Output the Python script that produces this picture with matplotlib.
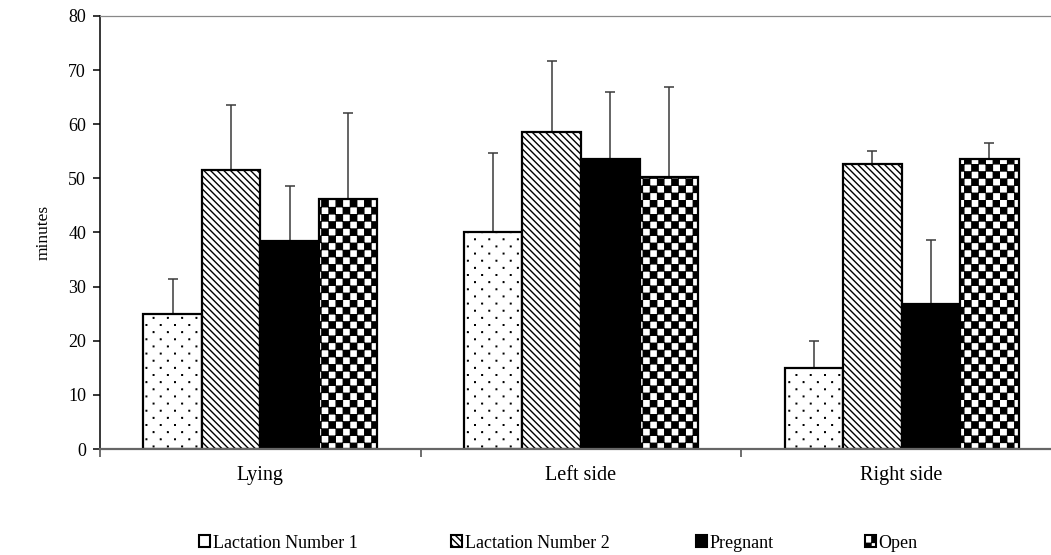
import numpy as np
import matplotlib
matplotlib.use("Agg")
import matplotlib.pyplot as plt
import matplotlib.hatch as mhatch
from matplotlib.path import Path
from matplotlib.patches import Patch

# ---------------- data ----------------
categories = ["Lying", "Left side", "Right side"]
series = ["Lactation Number 1", "Lactation Number 2", "Pregnant", "Open"]
lact1 = [25.0, 40.0, 15.0]
lact2 = [51.5, 58.6, 52.7]
pregnant = [38.4, 53.5, 26.8]
open_ = [46.2, 50.2, 53.6]
lact1_err = [6.4, 14.7, 5.0]
lact2_err = [12.1, 13.0, 2.4]
pregnant_err = [10.2, 12.4, 11.8]
open_err = [15.9, 16.6, 3.0]
yticks = [0, 10, 20, 30, 40, 50, 60, 70, 80]

values = [lact1, lact2, pregnant, open_]
errors = [lact1_err, lact2_err, pregnant_err, open_err]


def _square(vertices, codes, k, x0, y0, x1, y1):
    vertices[k:k + 5] = [(x0, y0), (x1, y0), (x1, y1), (x0, y1), (x0, y0)]
    codes[k:k + 5] = [Path.MOVETO, Path.LINETO, Path.LINETO,
                      Path.LINETO, Path.CLOSEPOLY]


# ------------- custom checkerboard hatch (uses the 'O' character) -------------
class Checker(mhatch.HatchPatternBase):
    filled = True

    def __init__(self, hatch, density):
        self.n = hatch.count('O') * 14
        self.cells = [(i, j) for i in range(self.n) for j in range(self.n)
                      if (i + j) % 2 == 0] if self.n else []
        self.num_vertices = len(self.cells) * 5

    def set_vertices_and_codes(self, vertices, codes):
        s = 1.0 / self.n
        ins = s * 0.06
        for m, (i, j) in enumerate(self.cells):
            _square(vertices, codes, 5 * m, i * s + ins, j * s + ins,
                    (i + 1) * s - ins, (j + 1) * s - ins)


# ------------- custom sparse tiny dots (uses the '.' character) -------------
class TinyDots(mhatch.HatchPatternBase):
    filled = True

    def __init__(self, hatch, density):
        c = hatch.count('.')
        self.cols = 7 * c
        self.rows = 14 * c
        self.pts = []
        if c:
            for r in range(self.rows):
                off = 0.5 if r % 2 else 0.0
                for q in range(self.cols):
                    self.pts.append(((q + off + 0.25) / self.cols, (r + 0.5) / self.rows))
        self.num_vertices = len(self.pts) * 5

    def set_vertices_and_codes(self, vertices, codes):
        d = 0.003
        for m, (px, py) in enumerate(self.pts):
            _square(vertices, codes, 5 * m, px - d, py - d, px + d, py + d)


mhatch._hatch_types = [t for t in mhatch._hatch_types
                       if t not in (mhatch.LargeCircles, mhatch.SmallFilledCircles)] + [Checker, TinyDots]

plt.rcParams['font.family'] = ['Liberation Serif', 'DejaVu Serif']
plt.rcParams['hatch.linewidth'] = 1.0

W, H = 1051, 555
fig = plt.figure(figsize=(W / 100, H / 100), dpi=100)
left, right, top, bottom = 100, 1062, 16, 449
ax = fig.add_axes([left / W, 1 - bottom / H, (right - left) / W, (bottom - top) / H])

styles = [
    dict(facecolor='white', hatch='.'),
    dict(facecolor='white', hatch='\\\\\\\\\\'),
    dict(facecolor='black', hatch=None),
    dict(facecolor='white', hatch='O'),
]

bw = 0.1825
x = np.arange(len(categories))
for k, (vals, errs, st) in enumerate(zip(values, errors, styles)):
    pos = x + (k - 1.5) * bw
    ax.errorbar(pos, vals, yerr=[np.zeros(len(vals)), errs], fmt='none',
                ecolor='#3a3a3a', elinewidth=1.1, capsize=3.3, capthick=1.1,
                zorder=1)
    ax.bar(pos, vals, width=bw, edgecolor='black', linewidth=1.6,
           facecolor=st['facecolor'], hatch=st['hatch'], zorder=2)

ax.set_xlim(-0.5, len(categories) - 0.5)
ax.set_ylim(0, 80)
ax.set_yticks(yticks)
ax.set_yticklabels([str(v) for v in yticks], fontsize=13)
ax.set_xticks(x)
ax.set_xticklabels(categories, fontsize=14.5)
ax.tick_params(axis='x', length=0, pad=12)
ax.set_xticks(np.arange(-0.5, len(categories) + 0.5, 1.0), minor=True)
ax.tick_params(axis='x', which='minor', length=6, width=1.2, color='#555555', direction='out')
ax.tick_params(axis='y', length=5, width=1.1, direction='out', pad=5)
ax.set_ylabel('minutes', fontsize=12.5, labelpad=12)

ax.spines['left'].set_linewidth(1.1)
ax.spines['left'].set_color('black')
ax.spines['bottom'].set_linewidth(1.6)
ax.spines['bottom'].set_color('#666666')
ax.spines['top'].set_linewidth(0.9)
ax.spines['top'].set_color('#888888')
ax.spines['right'].set_visible(False)

# legend, one item per position
leg_x = [199, 451, 696, 865]
legend_hatches = [None, '\\\\\\\\\\', None, 'O']
for k, (name, st) in enumerate(zip(series, styles)):
    h = Patch(facecolor=st['facecolor'], edgecolor='black', linewidth=1.5,
              hatch=legend_hatches[k])
    fig.legend(handles=[h], labels=[name], loc='center left',
               bbox_to_anchor=(leg_x[k] / W, 1 - 543 / H), frameon=False,
               handlelength=0.6, handleheight=0.6, handletextpad=0.15,
               borderpad=0, borderaxespad=0, fontsize=13)

fig.savefig('out.png', dpi=100)
